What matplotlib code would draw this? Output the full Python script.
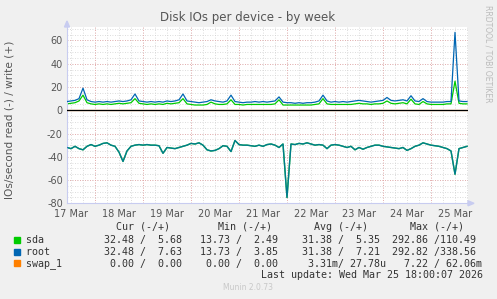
import matplotlib
matplotlib.use("Agg")
import matplotlib.pyplot as plt
import matplotlib.dates as mdates
import pandas as pd
import numpy as np

# ---------------- data (2-hour samples, 17 Mar 10:00 -> 25 Mar 18:00) ----------------
start_time = "2026-03-17 10:00"
step = "2h"

root_write = [7.5, 8, 8.5, 10, 19, 9, 7.5, 7, 7.5, 7, 7.5, 7, 7.5, 8, 7.5, 8, 9, 14, 8, 7.5,
              7, 7.5, 7, 7.5, 7, 8, 7.5, 8, 9, 14, 8, 7.5, 7, 6.5, 7, 7.5, 9, 8, 7.5, 7,
              8, 13, 7.5, 7, 6.5, 7, 7, 7.5, 7, 7.5, 7, 7.5, 8, 11.5, 7, 6.5, 6.5, 6, 6.5, 6,
              6.5, 6.5, 7, 8, 13, 8, 7, 7.5, 7, 7.5, 7, 7.5, 8, 8.5, 8, 7.5, 7, 7.5, 8, 8.5,
              11, 8.5, 8, 8.5, 9, 8, 12.5, 8, 7.5, 10, 7.5, 7, 7, 7, 7, 7.5, 7.5, 67, 8, 7.5, 7.5]

sda_write = [5.5, 6, 6.5, 8, 13, 6.5, 5.5, 5, 5.5, 5, 5.5, 5, 5.5, 6, 5.5, 6, 6.5, 10, 6, 5.5,
             5, 5.5, 5, 5.5, 5, 6, 5.5, 6, 6.5, 10, 5.5, 5, 4.5, 4.5, 4.5, 5, 7, 5.5, 5, 5,
             5.5, 9, 5, 5, 4.5, 5, 5, 5, 5, 5, 5, 5, 5.5, 9, 4.5, 4.5, 4.5, 4.5, 4.5, 4.5,
             4.5, 4.5, 5, 5.5, 10, 5.5, 5, 5, 5, 5, 5, 5, 5.5, 6, 5.5, 5.5, 5, 5.5, 5.5, 6,
             8, 6, 5.5, 6, 6.5, 5.5, 9.5, 5.5, 5, 7.5, 5.5, 5, 5, 5, 5, 5.5, 5.5, 25, 6, 5.5, 5.5]

# reads (plotted downwards) are identical for sda and root
read_ios = [32, 33, 31, 33, 34, 31, 29.5, 31, 30, 28.5, 28, 30, 31, 36, 44, 35, 31, 30, 29.5, 30,
            29.5, 30, 30, 30.5, 37, 32, 32.5, 33, 32, 31, 30, 28.5, 29, 28, 30, 34, 35, 34.5, 33, 30.5,
            31, 35.5, 26, 29.5, 30, 30, 30.5, 31, 30, 31, 29.5, 29, 30, 32, 29, 75, 29, 29.5, 28.5, 29,
            28, 29, 30, 29.5, 30, 33, 30, 29.5, 30, 31, 32, 31, 34, 32, 33.5, 32, 31, 30, 30, 31,
            31.5, 32, 32.5, 33, 32, 34.5, 33, 31, 30, 28, 29, 30, 30.5, 31, 32, 33, 35, 55, 33, 32, 31]
sda_read = read_ios
root_read = read_ios
swap_read = [0.0] * 101
swap_write = [0.0] * 101

day_labels = ["17 Mar", "18 Mar", "19 Mar", "20 Mar", "21 Mar", "22 Mar", "23 Mar", "24 Mar", "25 Mar"]
y_ticks = [60, 40, 20, 0, -20, -40, -60, -80]

legend_names = ["sda", "root", "swap_1"]
legend_colors = ["#00CC00", "#0066B3", "#FF8000"]
legend_rows = [
    "sda         " + " 32.48 /  5.68  " + " 13.73 /  2.49   " + " 31.38 /  5.35  " + "292.86 /110.49",
    "root        " + " 32.48 /  7.63  " + " 13.73 /  3.85   " + " 31.38 /  7.21  " + "292.82 /338.56",
    "swap_1      " + "  0.00 /  0.00  " + "  0.00 /  0.00   " + "  3.31m/ 27.78u " + "  7.22 / 62.06m",
]
header_row = " " * 15 + "Cur (-/+)" + " " * 8 + "Min (-/+)" + " " * 7 + "Avg (-/+)" + " " * 7 + "Max (-/+)"
last_update = "Last update: Wed Mar 25 18:00:07 2026"

# ---------------- figure ----------------
W, H = 497, 299
fig = plt.figure(figsize=(W / 100, H / 100), dpi=100, facecolor="#F0F0F0")

left, right, top, bottom = 67, 468, 27, 203.3
ax = fig.add_axes([left / W, 1 - bottom / H, (right - left) / W, (bottom - top) / H])
ax.set_facecolor("white")

t = pd.date_range(start_time, periods=len(root_write), freq=step)
x = mdates.date2num(t.to_pydatetime())

ax.set_xlim(x[0], x[-1] + 0.5 / 24)
ax.set_ylim(-80, 71.6)

# grid
minor_x = np.arange(mdates.date2num(pd.Timestamp("2026-03-17 12:00")), x[-1] + 0.01, 0.25)
major_x = np.arange(mdates.date2num(pd.Timestamp("2026-03-18 00:00")), x[-1] + 0.01, 1.0)
for xv in minor_x:
    ax.axvline(xv, color="#D0D0D0", lw=0.6, ls=(0, (1, 2)), zorder=0)
for yv in range(-80, 72, 5):
    ax.axhline(yv, color="#D0D0D0", lw=0.6, ls=(0, (1, 2)), zorder=0)
for xv in major_x:
    ax.axvline(xv, color="#E8A0A0", lw=0.6, ls=(0, (1, 2)), zorder=0.5)
for yv in range(-80, 72, 20):
    ax.axhline(yv, color="#E8A0A0", lw=0.6, ls=(0, (1, 2)), zorder=0.5)

# series
ax.plot(x, -np.array(sda_read), color="#00CC00", lw=1.0, zorder=2)
ax.plot(x, sda_write, color="#00CC00", lw=0.9, zorder=2)
ax.plot(x, -np.array(root_read), color="#0066B3", lw=1.0, alpha=0.8, zorder=3)
ax.plot(x, root_write, color="#0066B3", lw=0.9, zorder=3)
ax.plot(x, -np.array(swap_read), color="#FF8000", lw=0.8, zorder=3)
ax.plot(x, swap_write, color="#FF8000", lw=0.8, zorder=3)
ax.axhline(0, color="black", lw=0.9, zorder=4)

# ticks
noon = [mdates.date2num(pd.Timestamp("2026-03-%02d 12:00" % (17 + i))) for i in range(len(day_labels))]
ax.set_xticks(noon)
ax.set_xticklabels(day_labels)
ax.set_yticks(y_ticks)
ax.set_yticklabels([str(v) for v in y_ticks])
ax.tick_params(axis="both", length=0, labelsize=7, colors="#555555", pad=3)
ax.tick_params(axis="x", pad=4)

for s in ["top", "right"]:
    ax.spines[s].set_visible(False)
for s in ["left", "bottom"]:
    ax.spines[s].set_color("#C8CCF0")
    ax.spines[s].set_linewidth(0.8)

# axis arrows
fig.patches.append(plt.Polygon([[64.5 / W, 1 - 27 / H], [69.5 / W, 1 - 27 / H], [67 / W, 1 - 21 / H]],
                               closed=True, transform=fig.transFigure, color="#C8CCF0"))
fig.patches.append(plt.Polygon([[468 / W, 1 - 200.8 / H], [468 / W, 1 - 205.8 / H], [474 / W, 1 - 203.3 / H]],
                               closed=True, transform=fig.transFigure, color="#C8CCF0"))

# texts
fig.text(248 / W, 1 - 18 / H, "Disk IOs per device - by week", ha="center", va="center",
         fontsize=8.5, color="#555555")
fig.text(10 / W, 1 - 120 / H, "IOs/second read (-) / write (+)", rotation=90, ha="center", va="center",
         fontsize=7.6, color="#555555")
fig.text(488 / W, 1 - 5 / H, "RRDTOOL / TOBI OETIKER", rotation=270, ha="center", va="top",
         fontsize=5.5, color="#BBBBBB")

mono = "DejaVu Sans Mono"
x0 = 26.2 / W
fig.text(x0, 1 - 227.5 / H, header_row, fontsize=7.2, family=mono, color="#333333", va="center", ha="left")
row_y = [240, 251.7, 263.3]
for name, col, row, yy in zip(legend_names, legend_colors, legend_rows, row_y):
    fig.patches.append(plt.Rectangle((14 / W, 1 - (yy + 3) / H), 6 / W, 6 / H,
                                     transform=fig.transFigure, color=col))
    fig.text(x0, 1 - yy / H, row, fontsize=7.2, family=mono, color="#333333", va="center", ha="left")
fig.text(483 / W, 1 - 275 / H, last_update, fontsize=7.2, family=mono, color="#333333",
         va="center", ha="right")
fig.text(248 / W, 1 - 288 / H, "Munin 2.0.73", fontsize=5.5, color="#C8C8C8", va="center", ha="center")

fig.savefig("out.png", dpi=100, facecolor=fig.get_facecolor())
